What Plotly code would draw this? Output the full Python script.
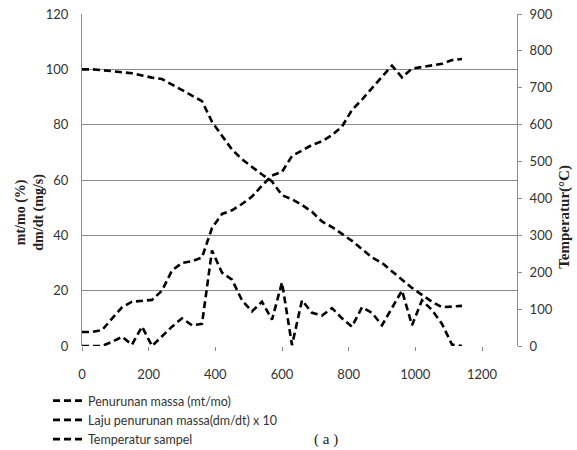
import plotly.graph_objects as go

time_s = [0, 30, 60, 90, 120, 150, 180, 210, 240, 270, 300, 330, 360, 390, 420, 450, 480, 510,
          540, 570, 600, 630, 660, 690, 720, 750, 780, 810, 840, 870, 900, 930, 960, 990,
          1020, 1050, 1080, 1110, 1140]

mass_pct = [100, 100, 99.7, 99.4, 99, 98.6, 97.8, 97, 96.5, 94.5, 92.5, 90.5, 88.5, 81, 76, 71,
            67.5, 64.7, 62, 59.5, 54.5, 53, 51, 48.5, 45, 43, 40.5, 38, 35, 32, 30, 27, 24, 21,
            18.5, 16, 14, 14.2, 14.5]

dmdt_x10 = [0, 0, 0, 1.5, 3.3, 0.5, 7, 0, 3.5, 7, 10, 7.5, 8, 34.5, 26.5, 24, 16.5, 12.5, 16,
            9.5, 23, 0.3, 16.5, 12, 11, 13.7, 10, 7, 14, 12, 7.5, 14, 20, 7.5, 16.5, 13, 8, 0.5, 0]

temp_c = [38, 38, 43, 75, 105, 120, 122, 125, 150, 205, 225, 230, 240, 320, 358, 368, 385, 405,
          435, 462, 472, 515, 530, 545, 555, 572, 595, 640, 668, 700, 730, 760, 728, 752, 757,
          762, 765, 775, 778]

series_names = ["Penurunan massa (mt/mo)", "Laju penurunan massa(dm/dt) x 10", "Temperatur sampel"]

x_ticks = [0, 200, 400, 600, 800, 1000, 1200]
y_left_ticks = [0, 20, 40, 60, 80, 100, 120]
y_right_ticks = [0, 100, 200, 300, 400, 500, 600, 700, 800, 900]

dash = "7px,4px"
line = dict(color="black", width=2.6, dash=dash)

fig = go.Figure()
fig.add_trace(go.Scatter(x=time_s, y=mass_pct, mode="lines", name=series_names[0], line=line))
fig.add_trace(go.Scatter(x=time_s, y=dmdt_x10, mode="lines", name=series_names[1], line=line))
fig.add_trace(go.Scatter(x=time_s, y=temp_c, mode="lines", name=series_names[2], line=line, yaxis="y2"))

tick_font = dict(family="Lato, Carlito, sans-serif", size=13, color="#333")
serif = "Liberation Serif, Times New Roman, serif"
fig.update_layout(
    width=577, height=450,
    margin=dict(l=82, r=60, t=14, b=104, autoexpand=False),
    paper_bgcolor="white", plot_bgcolor="white",
    showlegend=True,
    legend=dict(xref="container", yref="container", x=48 / 577, y=1 - 386 / 450,
                xanchor="left", yanchor="top",
                font=dict(family="Lato, sans-serif", size=12.5, color="#333"),
                bgcolor="rgba(0,0,0,0)", tracegroupgap=0, itemwidth=30),
    xaxis=dict(range=[0, 1305], tickvals=x_ticks, showgrid=False, zeroline=False,
               showline=False, ticks="outside", ticklen=4, tickcolor="#888",
               tickfont=tick_font, automargin=False, ticklabelstandoff=12),
    yaxis=dict(range=[0, 120], tickvals=y_left_ticks, showgrid=True, gridcolor="#8c8c8c",
               gridwidth=1.2, zeroline=False, showline=True, linecolor="#8c8c8c",
               ticks="", tickfont=tick_font, automargin=False, ticklabelstandoff=10),
    yaxis2=dict(range=[0, 900], tickvals=y_right_ticks, overlaying="y", side="right",
                showgrid=False, zeroline=False, showline=True, linecolor="#8c8c8c",
                ticks="outside", ticklen=4, tickcolor="#8c8c8c", tickfont=tick_font,
                automargin=False, ticklabelstandoff=5),
    annotations=[
        dict(text="<b>mt/mo (%)<br>dm/dt (mg/s)</b>", xref="paper", yref="paper",
             x=-0.12, y=0.404, xanchor="center", yanchor="middle", textangle=-90,
             showarrow=False, font=dict(family=serif, size=14, color="#222")),
        dict(text="<b>Temperatur(°C)</b>", xref="paper", yref="paper",
             x=(565 - 82) / 435, y=0.389, xanchor="center", yanchor="middle", textangle=-90,
             showarrow=False, font=dict(family=serif, size=15, color="#222")),
        dict(text="( a )", xref="paper", yref="paper", x=0.561, y=-0.283,
             xanchor="center", yanchor="middle", showarrow=False,
             font=dict(family=serif, size=15, color="#222")),
    ],
)

fig.write_html("out.html", config={"displayModeBar": False},
               post_script="document.body.style.margin='0';")
